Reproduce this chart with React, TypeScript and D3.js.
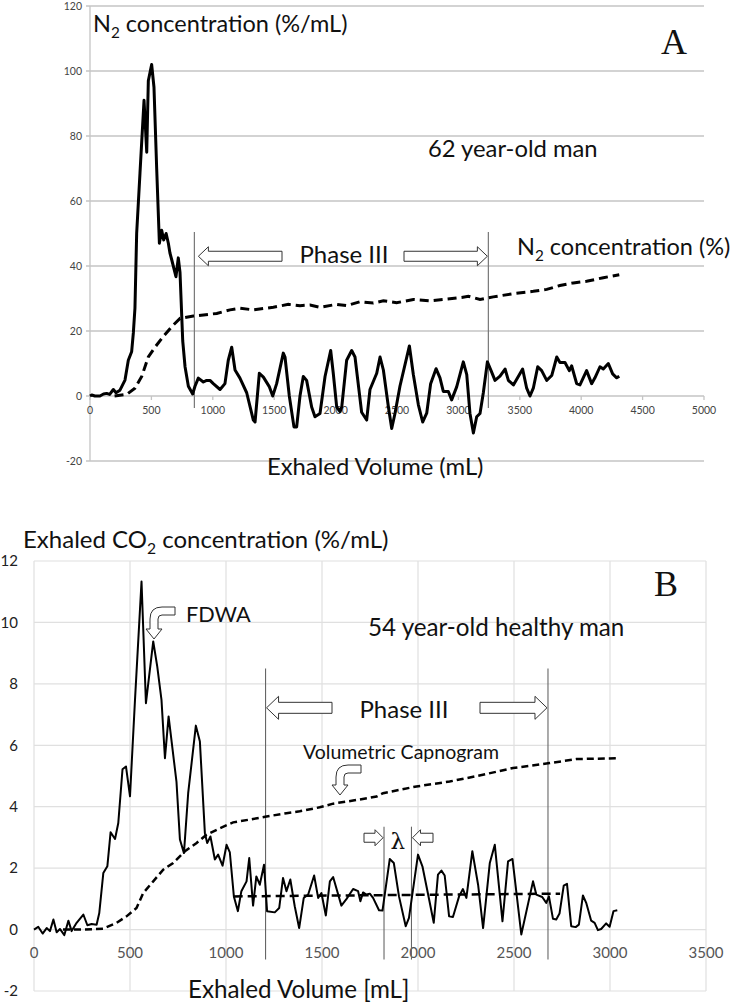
import { useEffect, useRef } from "react";
import * as d3 from "d3";

// Panel A: N2 single breath washout
const n2Volume = [0, 14, 40, 81, 110, 136, 160, 190, 212, 244, 285, 312, 339, 353, 366, 380, 407, 440, 462, 475, 502, 521, 543, 565, 584, 600, 620, 638, 651, 665, 700, 719, 733, 755, 774, 801, 836, 855, 882, 923, 950, 977, 1004, 1059, 1099, 1126, 1154, 1181, 1221, 1276, 1330, 1344, 1379, 1412, 1461, 1488, 1520, 1574, 1588, 1623, 1661, 1683, 1710, 1737, 1764, 1805, 1832, 1873, 1914, 1960, 1981, 2009, 2036, 2050, 2090, 2131, 2158, 2212, 2253, 2280, 2335, 2362, 2389, 2430, 2457, 2484, 2524, 2601, 2633, 2674, 2709, 2742, 2774, 2818, 2850, 2877, 2918, 2945, 2986, 3040, 3068, 3094, 3122, 3149, 3176, 3203, 3236, 3266, 3298, 3339, 3380, 3407, 3448, 3523, 3556, 3583, 3610, 3646, 3678, 3719, 3760, 3801, 3827, 3868, 3903, 3922, 3963, 3990, 4044, 4085, 4112, 4153, 4180, 4221, 4256, 4289, 4310];
const n2Slope = [0, 0.3, 0, 0, 0.6, 0.8, 0.5, 2, 1, 1.8, 4.9, 11, 13.6, 19.4, 27, 50, 68.6, 91, 75, 97, 102, 95, 70, 47, 51, 48, 50, 47, 44, 42, 36.7, 42.5, 38, 17, 9, 3, 0.6, 3, 5.5, 4.3, 4.8, 4.8, 3.8, 2, 3.8, 11, 15, 8, 5.5, 1, -7.4, -8, 7, 5.8, 2.8, 0, 3.8, 13.2, 12, 0, -9.5, -9.5, 0, 6, 4.8, -3.4, -6.4, -5.4, 6, 14, 7, -3.4, -4.8, -3.4, 11, 14, 12, -5, -7.4, 2, 7, 12, 8, -3.4, -10, -5.3, 3, 15.4, 6.6, -2.7, -8, -5.3, 3.8, 8.4, 5.6, 1.4, 1.4, -1.2, 2.8, 10.5, 6.6, -5.3, -11.4, -6.4, -5.4, 1, 10.5, 7.8, 4.8, 6.1, 8.3, 4.8, 3.4, 8.3, 2.4, 0, 2.4, 9, 7.8, 4.8, 6.3, 12, 10.3, 10.3, 7.8, 9.3, 3.8, 3.4, 7.8, 3.8, 5.6, 9, 8.3, 10, 6.8, 5.6, 6.1];
const n2ConcVolume = [200, 299, 366, 421, 475, 529, 597, 665, 733, 842, 1032, 1140, 1221, 1330, 1493, 1615, 1710, 1792, 1873, 2009, 2090, 2199, 2307, 2389, 2497, 2633, 2769, 2904, 3026, 3081, 3176, 3284, 3448, 3610, 3719, 3827, 3936, 4044, 4180, 4310];
const n2Conc = [0, 0.5, 2.4, 6, 12, 15, 18.3, 21.3, 23.9, 24.6, 25.4, 26.5, 27, 26.5, 27.3, 28.2, 27.8, 28, 27.3, 28.2, 27.8, 29, 28.6, 29.3, 28.7, 29.7, 29.3, 29.8, 30.3, 30.7, 29.7, 30.5, 31.5, 32.2, 32.8, 34, 34.8, 35.3, 36.4, 37.3];
const n2PhaseBounds = [850, 3244];
const n2XTicks = [0, 500, 1000, 1500, 2000, 2500, 3000, 3500, 4000, 4500, 5000];
const n2YTicks = [-20, 0, 20, 40, 60, 80, 100, 120];

// Panel B: volumetric capnography
const co2Volume = [0, 22, 45, 66, 83, 101, 118, 135, 158, 179, 196, 222, 257, 278, 300, 326, 340, 361, 382, 399, 422, 439, 461, 479, 500, 526, 560, 583, 621, 642, 664, 682, 701, 722, 742, 760, 781, 803, 843, 864, 890, 902, 919, 942, 959, 982, 1003, 1020, 1041, 1062, 1080, 1107, 1121, 1141, 1158, 1176, 1198, 1214, 1254, 1277, 1297, 1315, 1335, 1358, 1381, 1405, 1428, 1459, 1480, 1497, 1520, 1541, 1558, 1601, 1628, 1662, 1688, 1700, 1714, 1731, 1749, 1766, 1797, 1815, 1853, 1874, 1901, 1936, 1953, 2000, 2023, 2058, 2082, 2104, 2122, 2139, 2162, 2182, 2214, 2234, 2252, 2283, 2313, 2339, 2374, 2400, 2440, 2469, 2492, 2538, 2599, 2616, 2647, 2668, 2682, 2703, 2720, 2737, 2759, 2776, 2798, 2821, 2838, 2859, 2876, 2902, 2920, 2937, 2954, 2980, 2998, 3018, 3038];
const co2Slope = [0, 0.09, -0.13, 0.05, -0.05, 0.33, -0.09, 0.02, -0.18, 0.29, -0.05, 0.22, 0.49, 0.14, 0.18, 0.16, 0.54, 1.84, 2.06, 3.17, 2.95, 3.47, 5.22, 5.31, 4.34, 7.48, 11.33, 7.37, 9.38, 8.56, 7.48, 5.58, 6.94, 5.85, 4.82, 2.93, 2.49, 4.44, 6.64, 6.12, 3.14, 2.82, 3.03, 2.28, 2.44, 2.08, 2.76, 2.51, 1.08, 0.6, 1.25, 1.57, 2.33, 0.78, 1.73, 1.46, 2.11, 0.6, 0.56, 0.7, 1.68, 1.25, 1.63, 0.76, 0.05, 1.03, 1.14, 1.76, 1.03, 1.19, 0.46, 1.57, 1.71, 0.78, 1.0, 1.32, 1.25, 0.92, 1.21, 1.14, 1.17, 1.03, 0.63, 0.62, 2.3, 2.17, 1.08, 0.11, 0.38, 2.44, 2.06, 0.98, 0.22, 1.79, 1.92, 1.76, 0.43, 0.41, 1.08, 1.32, 1.03, 2.55, 1.46, 0.05, 2.17, 2.76, 0.27, 2.22, 2.3, -0.16, 1.57, 1.14, 1.06, 0.87, 1.08, 0.35, 0.33, 0.52, 1.43, 1.49, 0.11, 0.08, 0.16, 1.11, 0.87, 0.29, 0.22, -0.02, 0.02, 0.2, 0.09, 0.6, 0.63];
const capnoVolume = [151, 260, 360, 430, 482, 534, 569, 621, 673, 725, 786, 847, 899, 968, 1037, 1141, 1211, 1315, 1384, 1488, 1558, 1662, 1784, 1818, 1992, 2165, 2338, 2495, 2686, 2824, 3041];
const capno = [0, 0, 0.03, 0.22, 0.43, 0.7, 1.19, 1.57, 1.95, 2.17, 2.55, 2.82, 3.09, 3.3, 3.49, 3.6, 3.68, 3.79, 3.85, 3.98, 4.1, 4.2, 4.33, 4.44, 4.66, 4.82, 5.04, 5.26, 5.42, 5.55, 5.58];
const meanVolume = [1040, 2740];
const meanLevel = [1.08, 1.17];
const co2PhaseBounds = [1206, 2677];
const lambdaBounds = [1823, 1966];
const co2XTicks = [0, 500, 1000, 1500, 2000, 2500, 3000, 3500];
const co2YTicks = [-2, 0, 2, 4, 6, 8, 10, 12];

const FONT = "Lato, 'Open Sans', sans-serif";

function zip(xs: number[], ys: number[]): [number, number][] {
  return xs.map((x, i) => [x, ys[i]]);
}

function hArrow(tail: number, tip: number, cy: number, shaft: number, head: number, headLen: number) {
  const dir = Math.sign(tip - tail);
  const base = tip - dir * headLen;
  const pts = [
    [tail, cy - shaft / 2],
    [base, cy - shaft / 2],
    [base, cy - head / 2],
    [tip, cy],
    [base, cy + head / 2],
    [base, cy + shaft / 2],
    [tail, cy + shaft / 2],
  ];
  return "M" + pts.map((p) => p.join(",")).join("L") + "Z";
}

// bent arrow: horizontal tail on the right, curving down to a downward head
function bentArrow(tipX: number, tipY: number, tailX: number, topY: number) {
  const w = 8;
  const L = tipX - w / 2;
  const R = tipX + w / 2;
  const headBase = tipY - 10;
  const ro = 12;
  const ri = 4;
  return [
    `M${tailX},${topY}`,
    `L${L + ro},${topY}`,
    `Q${L},${topY} ${L},${topY + ro}`,
    `L${L},${headBase}`,
    `L${tipX - 8},${headBase}`,
    `L${tipX},${tipY}`,
    `L${tipX + 8},${headBase}`,
    `L${R},${headBase}`,
    `L${R},${topY + w + ri}`,
    `Q${R},${topY + w} ${R + ri},${topY + w}`,
    `L${tailX},${topY + w}`,
    "Z",
  ].join(" ");
}

function subLabel(g: any, x: number, y: number, pre: string, sub: string, post: string, size: number) {
  const t = g.append("text").attr("x", x).attr("y", y).attr("font-family", FONT).attr("font-size", size).attr("fill", "#111");
  t.append("tspan").text(pre);
  t.append("tspan").attr("font-size", size * 0.65).attr("dy", size * 0.25).text(sub);
  t.append("tspan").attr("dy", -size * 0.25).text(post);
}

function drawTop(svg: any) {
  const x = d3.scaleLinear().domain([0, 5000]).range([90, 704]);
  const y = d3.scaleLinear().domain([-20, 120]).range([461, 6]);
  const g = svg.append("g");

  n2YTicks.forEach((t) => {
    g.append("line").attr("x1", 86).attr("x2", 704).attr("y1", y(t)).attr("y2", y(t)).attr("stroke", "#c4c4c4").attr("stroke-width", 1.3);
    g.append("text").attr("x", 82).attr("y", y(t)).attr("dy", "0.35em").attr("text-anchor", "end")
      .attr("font-family", FONT).attr("font-size", 10.5).attr("fill", "#444").text(t);
  });
  g.append("line").attr("x1", x(0)).attr("x2", x(0)).attr("y1", y(120)).attr("y2", y(-20)).attr("stroke", "#c4c4c4").attr("stroke-width", 1.3);
  n2XTicks.forEach((t) => {
    g.append("line").attr("x1", x(t)).attr("x2", x(t)).attr("y1", y(0)).attr("y2", y(0) + 4).attr("stroke", "#c4c4c4").attr("stroke-width", 1.3);
    g.append("text").attr("x", x(t)).attr("y", y(0) + 14).attr("dy", "0.35em").attr("text-anchor", "middle")
      .attr("font-family", FONT).attr("font-size", 10.5).attr("fill", "#444").text(t);
  });

  n2PhaseBounds.forEach((v) => {
    g.append("line").attr("x1", x(v)).attr("x2", x(v)).attr("y1", y(50.5)).attr("y2", y(0) + 12).attr("stroke", "#777").attr("stroke-width", 1.2);
  });

  const line = d3.line<[number, number]>().x((d) => x(d[0])).y((d) => y(d[1]));
  g.append("path").attr("d", line(zip(n2ConcVolume, n2Conc))).attr("fill", "none").attr("stroke", "#000")
    .attr("stroke-width", 3).attr("stroke-dasharray", "9,5");
  g.append("path").attr("d", line(zip(n2Volume, n2Slope))).attr("fill", "none").attr("stroke", "#000")
    .attr("stroke-width", 3).attr("stroke-linejoin", "round");

  const ay = y(43);
  g.append("path").attr("d", hArrow(282, x(n2PhaseBounds[0]) + 4, ay, 10, 19, 10)).attr("fill", "#fff").attr("stroke", "#333").attr("stroke-width", 1);
  g.append("path").attr("d", hArrow(404, x(n2PhaseBounds[1]) - 1, ay, 10, 19, 10)).attr("fill", "#fff").attr("stroke", "#333").attr("stroke-width", 1);
  g.append("text").attr("x", 344).attr("y", 263).attr("text-anchor", "middle").attr("font-family", FONT).attr("font-size", 24).attr("fill", "#111").text("Phase III");

  subLabel(g, 93, 32, "N", "2", " concentration (%/mL)", 23.5);
  subLabel(g, 517, 255, "N", "2", " concentration (%)", 23.5);
  g.append("text").attr("x", 428).attr("y", 157).attr("font-family", FONT).attr("font-size", 23.8).attr("fill", "#111").text("62 year-old man");
  g.append("text").attr("x", 267).attr("y", 475).attr("font-family", FONT).attr("font-size", 23.8).attr("fill", "#111").text("Exhaled Volume (mL)");
  g.append("text").attr("x", 661).attr("y", 54).attr("font-family", "'Liberation Serif', serif").attr("font-size", 36).attr("fill", "#111").text("A");
}

function drawBottom(svg: any) {
  const x = d3.scaleLinear().domain([0, 3500]).range([34, 706]);
  const y = d3.scaleLinear().domain([-2, 12]).range([991, 561]);
  const g = svg.append("g");

  co2YTicks.forEach((t) => {
    g.append("line").attr("x1", x(0)).attr("x2", x(3500)).attr("y1", y(t)).attr("y2", y(t)).attr("stroke", "#e0e0e0").attr("stroke-width", 1.2);
    g.append("text").attr("x", 18).attr("y", y(t)).attr("dy", "0.35em").attr("text-anchor", "end")
      .attr("font-family", FONT).attr("font-size", 15).attr("fill", "#222").text(t);
  });
  co2XTicks.forEach((t) => {
    g.append("line").attr("x1", x(t)).attr("x2", x(t)).attr("y1", y(12)).attr("y2", y(-2)).attr("stroke", "#e0e0e0").attr("stroke-width", 1.2);
    g.append("text").attr("x", x(t)).attr("y", y(0) + 23).attr("dy", "0.35em").attr("text-anchor", "middle")
      .attr("font-family", FONT).attr("font-size", 15).attr("fill", "#555").text(t);
  });

  co2PhaseBounds.forEach((v) => {
    g.append("line").attr("x1", x(v)).attr("x2", x(v)).attr("y1", y(8.5)).attr("y2", y(0) + 30).attr("stroke", "#666").attr("stroke-width", 1.1);
  });
  lambdaBounds.forEach((v) => {
    g.append("line").attr("x1", x(v)).attr("x2", x(v)).attr("y1", y(3.35)).attr("y2", y(0) + 30).attr("stroke", "#666").attr("stroke-width", 1.1);
  });

  const line = d3.line<[number, number]>().x((d) => x(d[0])).y((d) => y(d[1]));
  g.append("path").attr("d", line(zip(capnoVolume, capno))).attr("fill", "none").attr("stroke", "#000")
    .attr("stroke-width", 2.5).attr("stroke-dasharray", "7,4");
  g.append("path").attr("d", line(zip(meanVolume, meanLevel))).attr("fill", "none").attr("stroke", "#000")
    .attr("stroke-width", 2.5).attr("stroke-dasharray", "9,5");
  g.append("path").attr("d", line(zip(co2Volume, co2Slope))).attr("fill", "none").attr("stroke", "#000")
    .attr("stroke-width", 2).attr("stroke-linejoin", "round");

  const ay = y(7.22);
  g.append("path").attr("d", hArrow(332, x(co2PhaseBounds[0]) + 1, ay, 11, 23, 12)).attr("fill", "#fff").attr("stroke", "#333").attr("stroke-width", 1);
  g.append("path").attr("d", hArrow(480, x(co2PhaseBounds[1]) - 1, ay, 11, 23, 12)).attr("fill", "#fff").attr("stroke", "#333").attr("stroke-width", 1);
  g.append("text").attr("x", 404).attr("y", 718).attr("text-anchor", "middle").attr("font-family", FONT).attr("font-size", 24).attr("fill", "#111").text("Phase III");

  const ly = y(2.99);
  g.append("path").attr("d", hArrow(364, x(lambdaBounds[0]) - 1, ly, 9, 16, 8)).attr("fill", "#fff").attr("stroke", "#333").attr("stroke-width", 1);
  g.append("path").attr("d", hArrow(433, x(lambdaBounds[1]) + 1, ly, 9, 16, 8)).attr("fill", "#fff").attr("stroke", "#333").attr("stroke-width", 1);
  g.append("text").attr("x", x((lambdaBounds[0] + lambdaBounds[1]) / 2)).attr("y", 849).attr("text-anchor", "middle")
    .attr("font-family", "'DejaVu Serif', serif").attr("font-size", 23).attr("fill", "#111").text("λ");

  g.append("path").attr("d", bentArrow(154, 639, 175, 607)).attr("fill", "#fff").attr("stroke", "#333").attr("stroke-width", 1);
  g.append("text").attr("x", 186).attr("y", 622).attr("font-family", FONT).attr("font-size", 21.7).attr("fill", "#111").text("FDWA");
  g.append("path").attr("d", bentArrow(340, 795, 361, 765)).attr("fill", "#fff").attr("stroke", "#333").attr("stroke-width", 1);
  g.append("text").attr("x", 303).attr("y", 759).attr("font-family", FONT).attr("font-size", 19.5).attr("fill", "#111").text("Volumetric Capnogram");

  g.append("text").attr("x", 368).attr("y", 636).attr("font-family", FONT).attr("font-size", 24.2).attr("fill", "#111").text("54 year-old healthy man");
  subLabel(g, 23, 548, "Exhaled CO", "2", " concentration (%/mL)", 24);
  g.append("text").attr("x", 188).attr("y", 998).attr("font-family", FONT).attr("font-size", 24.2).attr("fill", "#111").text("Exhaled Volume [mL]");
  g.append("text").attr("x", 654).attr("y", 596).attr("font-family", "'Liberation Serif', serif").attr("font-size", 36).attr("fill", "#111").text("B");
}

const App = () => {
  const svgRef = useRef<SVGSVGElement | null>(null);

  useEffect(() => {
    if (svgRef.current) {
      const svg = d3.select(svgRef.current);
      svg.selectAll("*").remove();
      drawTop(svg);
      drawBottom(svg);
    }
  }, []);

  return (
    <svg
      ref={svgRef}
      width={733}
      height={1005}
      style={{ position: "absolute", left: 0, top: 0, background: "#fff" }}
    />
  );
};

export default App;
